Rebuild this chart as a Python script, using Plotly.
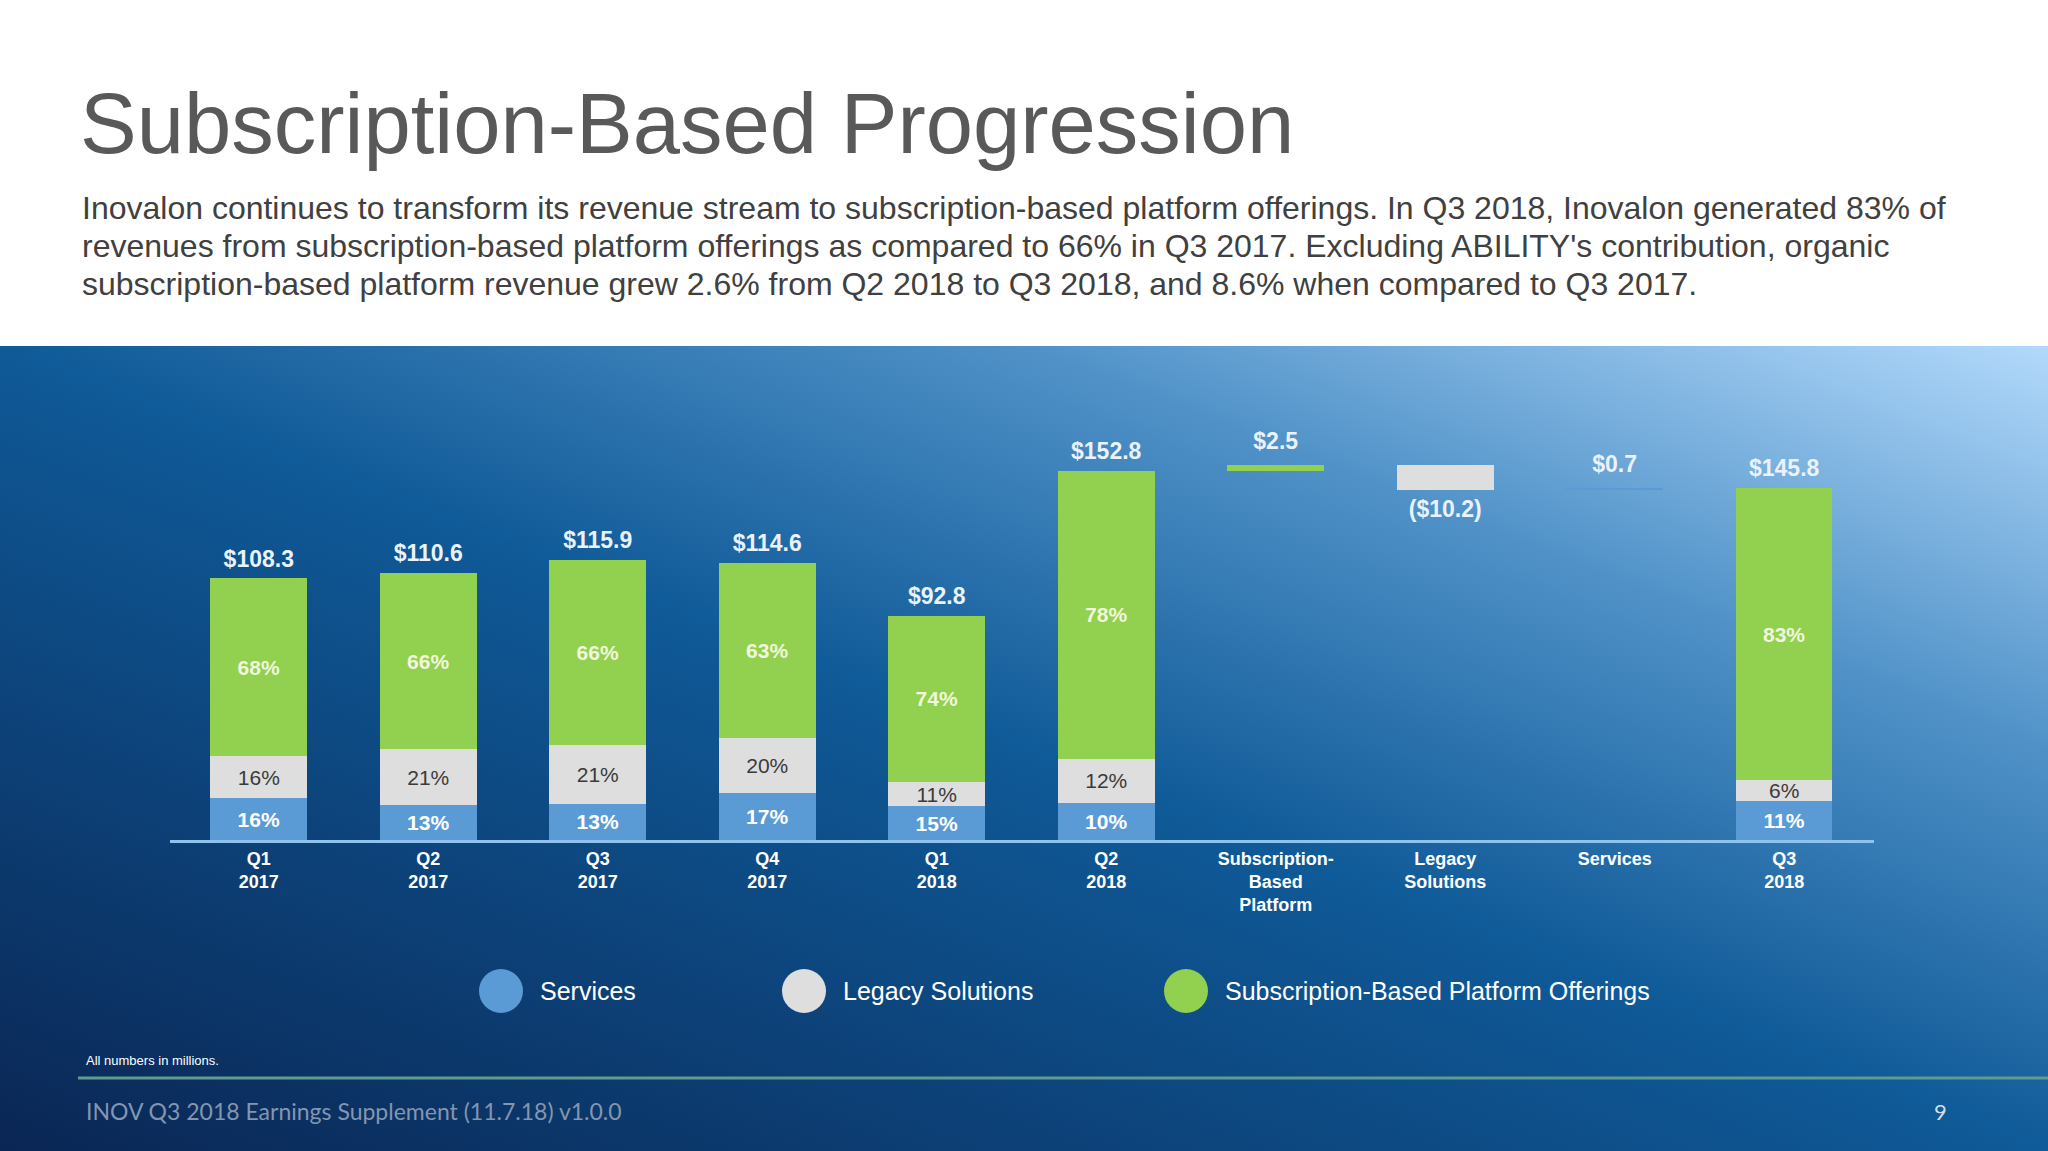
import base64
import plotly.graph_objects as go

W, H = 2048, 1151

# ---------------- data ----------------
quarters = ["Q1<br>2017", "Q2<br>2017", "Q3<br>2017", "Q4<br>2017",
            "Q1<br>2018", "Q2<br>2018", "Q3<br>2018"]
totals = [108.3, 110.6, 115.9, 114.6, 92.8, 152.8, 145.8]
services_pct = [16, 13, 13, 17, 15, 10, 11]
legacy_pct = [16, 21, 21, 20, 11, 12, 6]
subscription_pct = [68, 66, 66, 63, 74, 78, 83]

bridge_labels = ["Subscription-<br>Based<br>Platform", "Legacy<br>Solutions", "Services"]
bridge_changes = [2.5, -10.2, 0.7]

category_order = quarters[:6] + bridge_labels + quarters[6:]

C_SERV = "#5b9bd5"
C_LEG = "#dedede"
C_SUB = "#92d050"
FONT = "Liberation Sans, Arial, sans-serif"


def X(px):
    return px / W


def Y(py):
    return 1 - py / H


def seg(pcts):
    return [t * p / 100 for t, p in zip(totals, pcts)]


fig = go.Figure()

common = dict(textposition="inside", insidetextanchor="middle", constraintext="none",
              textangle=0, hoverinfo="skip", showlegend=False, marker_line_width=0)

fig.add_bar(x=quarters, y=seg(services_pct), marker_color=C_SERV,
            text=[f"{p}%" for p in services_pct],
            insidetextfont=dict(family=FONT, size=21, color="white", weight="bold"), **common)
fig.add_bar(x=quarters, y=seg(legacy_pct), marker_color=C_LEG,
            text=[f"{p}%" for p in legacy_pct],
            insidetextfont=dict(family=FONT, size=21, color="#3a3a3a"), **common)
fig.add_bar(x=quarters, y=seg(subscription_pct), marker_color=C_SUB,
            text=[f"{p}%" for p in subscription_pct],
            insidetextfont=dict(family=FONT, size=21, color="#f1f7dc", weight="bold"), **common)

# bridge (waterfall) from Q2 2018 to Q3 2018
bases = []
level = totals[5]
for ch in bridge_changes:
    bases.append(level)
    level += ch
fig.add_bar(x=bridge_labels, y=bridge_changes, base=bases,
            marker_color=[C_SUB, C_LEG, C_SERV], marker_line_width=0,
            hoverinfo="skip", showlegend=False)

# total labels
fig.add_scatter(x=quarters, y=totals, mode="markers+text",
                marker=dict(size=8, color="rgba(0,0,0,0)"),
                text=[f"${t:.1f}" for t in totals], textposition="top center",
                textfont=dict(family=FONT, size=23, color="#eaf2fb", weight="bold"),
                hoverinfo="skip", showlegend=False)

# bridge labels
b_y, b_pos, b_txt = [], [], []
for b, ch in zip(bases, bridge_changes):
    b_y.append(b + ch)
    if ch >= 0:
        b_pos.append("top center")
        b_txt.append(f"${ch:.1f}")
    else:
        b_pos.append("bottom center")
        b_txt.append(f"(${-ch:.1f})")
fig.add_scatter(x=bridge_labels, y=b_y, mode="markers+text",
                marker=dict(size=15, color="rgba(0,0,0,0)"),
                text=b_txt, textposition=b_pos,
                textfont=dict(family=FONT, size=23, color="#eaf2fb", weight="bold"),
                hoverinfo="skip", showlegend=False)

# ---------------- background gradient ----------------
panel_top = 346
ph = H - panel_top
svg = (f'<svg xmlns="http://www.w3.org/2000/svg" width="{W}" height="{ph}" '
       f'viewBox="0 0 {W} {ph}" preserveAspectRatio="none"><defs>'
       '<linearGradient id="g" x1="0" y1="1" x2="1" y2="0">'
       '<stop offset="0" stop-color="#0a2654"/>'
       '<stop offset="0.5" stop-color="#0f5a98"/>'
       '<stop offset="0.75" stop-color="#5092c8"/>'
       '<stop offset="1" stop-color="#b2d9fb"/>'
       '</linearGradient></defs>'
       f'<rect width="{W}" height="{ph}" fill="url(#g)"/></svg>')
src = "data:image/svg+xml;base64," + base64.b64encode(svg.encode()).decode()

# ---------------- layout ----------------
plot_left, plot_right = 169.8, 1874
axis_y, plot_top = 840, 400
px_per_unit = 2.415

P = dict(xref="paper", yref="paper", showarrow=False)
para_font = dict(family=FONT, size=32, color="#404040")
annotations = [
    dict(text="Subscription-Based Progression", x=X(78), y=Y(124), xanchor="left", yanchor="middle",
         font=dict(family=FONT, size=85, color="#595959"), **P),
    dict(text="Inovalon continues to transform its revenue stream to subscription-based platform offerings. In Q3 2018, Inovalon generated 83% of",
         x=X(80), y=Y(208), xanchor="left", yanchor="middle", font=para_font, **P),
    dict(text="revenues from subscription-based platform offerings as compared to 66% in Q3 2017. Excluding ABILITY's contribution, organic",
         x=X(80), y=Y(246), xanchor="left", yanchor="middle", font=para_font, **P),
    dict(text="subscription-based platform revenue grew 2.6% from Q2 2018 to Q3 2018, and 8.6% when compared to Q3 2017.",
         x=X(80), y=Y(284), xanchor="left", yanchor="middle", font=para_font, **P),
    dict(text="All numbers in millions.", x=X(84), y=Y(1060), xanchor="left", yanchor="middle",
         font=dict(family=FONT, size=13, color="#ffffff"), **P),
    dict(text="INOV Q3 2018 Earnings Supplement (11.7.18) v1.0.0", x=X(84), y=Y(1111),
         xanchor="left", yanchor="middle",
         font=dict(family="Lato, Open Sans, sans-serif", size=23, color="#8396b0"), **P),
    dict(text="9", x=X(1940), y=Y(1111), xanchor="center", yanchor="middle",
         font=dict(family="Lato, Open Sans, sans-serif", size=22, color="#d6dde8"), **P),
]

legend_items = [("Services", C_SERV, 501), ("Legacy Solutions", C_LEG, 804),
                ("Subscription-Based Platform Offerings", C_SUB, 1186)]
shapes = [dict(type="line", xref="paper", yref="paper", x0=X(78), x1=1, y0=Y(1078), y1=Y(1078),
               line=dict(color="#5f9c8e", width=3))]
r = 22
ly = 991
for name, col, cx in legend_items:
    shapes.append(dict(type="circle", xref="paper", yref="paper",
                       x0=X(cx - r), x1=X(cx + r), y0=Y(ly + r), y1=Y(ly - r),
                       fillcolor=col, line=dict(width=0)))
    annotations.append(dict(text=name, x=X(cx + r + 15), y=Y(ly), xanchor="left", yanchor="middle",
                            font=dict(family=FONT, size=25, color="white"), **P))

fig.update_layout(
    width=W, height=H, margin=dict(l=0, r=0, t=0, b=0),
    paper_bgcolor="white", plot_bgcolor="rgba(0,0,0,0)",
    barmode="stack", bargap=0.43,
    images=[dict(source=src, xref="paper", yref="paper", x=0, y=Y(panel_top),
                 sizex=1, sizey=Y(panel_top), xanchor="left", yanchor="top",
                 sizing="stretch", layer="below")],
    xaxis=dict(domain=[X(plot_left), X(plot_right)], range=[-0.525, 9.53],
               categoryorder="array", categoryarray=category_order,
               showline=True, linecolor="#8fc3ee", linewidth=3, showgrid=False, zeroline=False,
               ticks="", tickfont=dict(family=FONT, size=18, color="white", weight="bold"),
               fixedrange=True),
    yaxis=dict(domain=[Y(axis_y), Y(plot_top)], range=[0, (axis_y - plot_top) / px_per_unit],
               visible=False, showgrid=False, zeroline=False, fixedrange=True),
    annotations=annotations, shapes=shapes, showlegend=False,
)

fig.write_html("out.html", config={"displayModeBar": False})
